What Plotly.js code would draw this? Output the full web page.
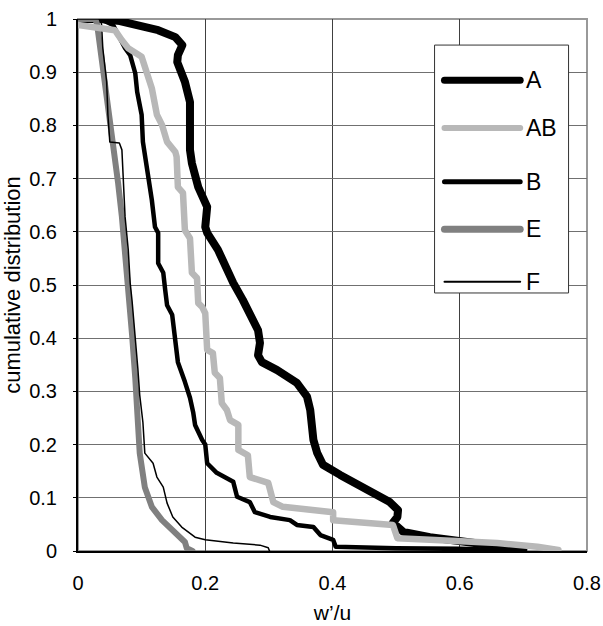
<!DOCTYPE html>
<html>
<head>
<meta charset="utf-8">
<script src="https://cdn.plot.ly/plotly-3.0.1.min.js"></script>
<style>
html,body{margin:0;padding:0;background:#fff;}
#chart{width:603px;height:626px;}
#chart path.js-line{stroke-linejoin:round;stroke-linecap:round;}
#chart .shapelayer path{stroke-linecap:round;}
</style>
</head>
<body>
<div id="chart"></div>
<script>
// ---- data ----
const seriesNames = ["A", "AB", "B", "E", "F"];

const A_x = [0, 0.035, 0.066, 0.126, 0.153, 0.164, 0.157, 0.156, 0.168, 0.176, 0.176, 0.179, 0.189, 0.203, 0.2, 0.203, 0.22, 0.234, 0.244, 0.259, 0.27, 0.283, 0.286, 0.283, 0.289, 0.313, 0.344, 0.36, 0.365, 0.368, 0.37, 0.376, 0.385, 0.412, 0.448, 0.49, 0.503, 0.502, 0.495, 0.511, 0.553, 0.605, 0.659, 0.7];
const A_y = [1, 1, 0.996, 0.979, 0.966, 0.951, 0.932, 0.919, 0.882, 0.844, 0.754, 0.729, 0.684, 0.647, 0.609, 0.598, 0.566, 0.528, 0.504, 0.472, 0.447, 0.415, 0.391, 0.368, 0.355, 0.34, 0.316, 0.29, 0.265, 0.227, 0.209, 0.184, 0.162, 0.143, 0.12, 0.092, 0.077, 0.064, 0.053, 0.036, 0.026, 0.017, 0.008, 0.003];

const AB_x = [0, 0.027, 0.058, 0.069, 0.079, 0.1, 0.105, 0.116, 0.124, 0.132, 0.14, 0.153, 0.155, 0.157, 0.165, 0.168, 0.176, 0.179, 0.187, 0.189, 0.195, 0.2, 0.203, 0.212, 0.215, 0.223, 0.226, 0.234, 0.239, 0.252, 0.252, 0.267, 0.27, 0.299, 0.307, 0.322, 0.401, 0.401, 0.495, 0.502, 0.553, 0.659, 0.722, 0.755];
const AB_y = [0.989, 0.985, 0.979, 0.96, 0.945, 0.929, 0.908, 0.87, 0.82, 0.801, 0.769, 0.75, 0.741, 0.684, 0.673, 0.603, 0.588, 0.523, 0.513, 0.466, 0.459, 0.447, 0.378, 0.372, 0.335, 0.325, 0.278, 0.265, 0.246, 0.237, 0.19, 0.18, 0.139, 0.128, 0.092, 0.083, 0.073, 0.058, 0.049, 0.024, 0.021, 0.015, 0.008, 0.002];

const B_x = [0, 0.035, 0.055, 0.063, 0.074, 0.082, 0.09, 0.093, 0.1, 0.102, 0.105, 0.11, 0.113, 0.116, 0.121, 0.126, 0.126, 0.134, 0.137, 0.14, 0.148, 0.153, 0.157, 0.168, 0.176, 0.181, 0.184, 0.195, 0.2, 0.203, 0.218, 0.244, 0.25, 0.27, 0.278, 0.302, 0.333, 0.344, 0.37, 0.381, 0.401, 0.405, 0.5, 0.6, 0.668];
const B_y = [1, 1, 0.989, 0.97, 0.945, 0.932, 0.898, 0.863, 0.82, 0.769, 0.744, 0.716, 0.692, 0.66, 0.609, 0.598, 0.541, 0.523, 0.491, 0.462, 0.444, 0.393, 0.355, 0.318, 0.288, 0.261, 0.237, 0.209, 0.2, 0.165, 0.147, 0.13, 0.102, 0.092, 0.073, 0.064, 0.058, 0.049, 0.045, 0.03, 0.021, 0.008, 0.005, 0.004, 0.002];

const E_x = [0, 0.027, 0.03, 0.035, 0.042, 0.05, 0.058, 0.063, 0.069, 0.074, 0.079, 0.085, 0.09, 0.094, 0.097, 0.105, 0.116, 0.132, 0.153, 0.168, 0.171, 0.18];
const E_y = [1, 1, 0.99, 0.945, 0.882, 0.82, 0.758, 0.692, 0.628, 0.566, 0.5, 0.406, 0.325, 0.25, 0.184, 0.12, 0.083, 0.058, 0.034, 0.017, 0.005, 0];

const F_x = [0, 0.035, 0.037, 0.039, 0.045, 0.047, 0.05, 0.065, 0.069, 0.071, 0.074, 0.079, 0.082, 0.085, 0.09, 0.094, 0.097, 0.102, 0.105, 0.118, 0.124, 0.134, 0.14, 0.149, 0.163, 0.184, 0.2, 0.244, 0.286, 0.299, 0.301];
const F_y = [1, 1, 0.99, 0.945, 0.882, 0.82, 0.769, 0.767, 0.754, 0.692, 0.628, 0.566, 0.504, 0.47, 0.406, 0.344, 0.293, 0.242, 0.184, 0.165, 0.139, 0.12, 0.09, 0.064, 0.045, 0.026, 0.021, 0.015, 0.011, 0.006, 0];

const xTitle = "w’/u";
const yTitle = "cumulative distribution";

// ---- styles ----
const styles = {
  A:  {color: "#000000", width: 8},
  AB: {color: "#b8b8b8", width: 6.5},
  B:  {color: "#000000", width: 4.5},
  E:  {color: "#808080", width: 6},
  F:  {color: "#000000", width: 1.5}
};
const legendStyles = {
  A:  {color: "#000000", width: 7},
  AB: {color: "#b8b8b8", width: 6},
  B:  {color: "#000000", width: 5},
  E:  {color: "#808080", width: 7},
  F:  {color: "#000000", width: 2}
};

const dataXY = {A: [A_x, A_y], AB: [AB_x, AB_y], B: [B_x, B_y], E: [E_x, E_y], F: [F_x, F_y]};
const drawOrder = ["A", "B", "E", "F", "AB"];

const traces = drawOrder.map(n => ({
  type: "scatter", mode: "lines", name: n,
  x: dataXY[n][0], y: dataXY[n][1],
  line: {color: styles[n].color, width: styles[n].width},
  showlegend: false, hoverinfo: "skip"
}));

// manual legend (inside plot, data coords)
const legX0 = 0.561, legX1 = 0.771, legY0 = 0.485, legY1 = 0.951;
const sampleX0 = 0.576, sampleX1 = 0.695, labelX = 0.701;
const rowY = [0.885, 0.795, 0.694, 0.605, 0.506];

const shapes = [
  {type: "rect", xref: "paper", yref: "paper", x0: 0, x1: 1, y0: 0, y1: 1,
   line: {color: "#999999", width: 2}, layer: "between"},
  {type: "rect", xref: "x", yref: "y", x0: legX0, x1: legX1, y0: legY0, y1: legY1,
   fillcolor: "#ffffff", line: {color: "#333333", width: 1}, layer: "above"}
];
const annotations = [];
seriesNames.forEach((n, i) => {
  shapes.push({type: "line", xref: "x", yref: "y", x0: sampleX0, x1: sampleX1, y0: rowY[i], y1: rowY[i],
    line: {color: legendStyles[n].color, width: legendStyles[n].width}, layer: "above"});
  annotations.push({xref: "x", yref: "y", x: labelX, y: rowY[i], text: n, showarrow: false,
    xanchor: "left", yanchor: "middle", font: {size: 23, color: "#000"}});
});

const layout = {
  width: 603, height: 626,
  margin: {l: 78, r: 16, t: 19, b: 75},
  paper_bgcolor: "#ffffff", plot_bgcolor: "#ffffff",
  font: {family: "Liberation Sans, Arial, sans-serif", size: 20, color: "#000"},
  showlegend: false,
  xaxis: {
    range: [0, 0.8], dtick: 0.2, tick0: 0,
    showgrid: true, gridcolor: "#404040", gridwidth: 1,
    zeroline: false, showline: true, linecolor: "#000", linewidth: 2,
    ticks: "", ticklabelstandoff: 13,
    tickfont: {size: 20},
    title: {text: xTitle, font: {size: 21}, standoff: 12}
  },
  yaxis: {
    range: [0, 1], dtick: 0.1, tick0: 0,
    showgrid: true, gridcolor: "#707070", gridwidth: 1,
    zeroline: false, showline: true, linecolor: "#000", linewidth: 2,
    ticks: "outside", ticklen: 3, tickcolor: "#000", ticklabelstandoff: 12,
    tickfont: {size: 20},
    title: {text: yTitle, font: {size: 22}, standoff: 8}
  },
  shapes: shapes,
  annotations: annotations
};

Plotly.newPlot("chart", traces, layout, {staticPlot: true, displayModeBar: false});
</script>
</body>
</html>
